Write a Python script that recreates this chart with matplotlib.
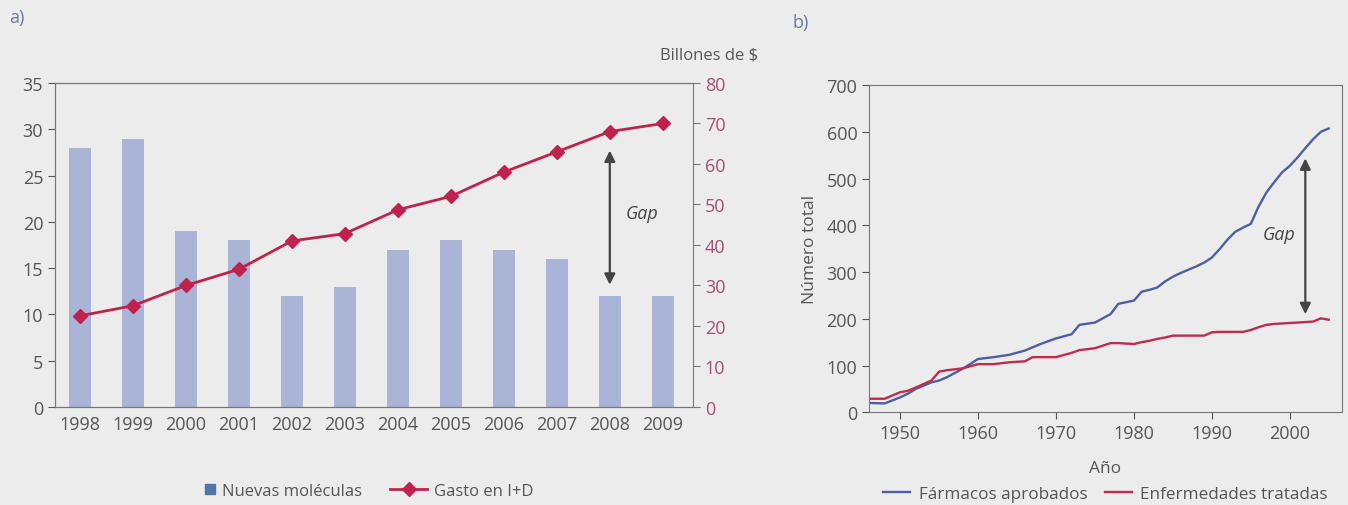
import numpy as np
import matplotlib.pyplot as plt
from matplotlib.lines import Line2D

plt.rcParams['font.family'] = ['Open Sans', 'DejaVu Sans']

# a) nuevas moléculas y gasto en I+D
anios = ['1998', '1999', '2000', '2001', '2002', '2003', '2004', '2005', '2006', '2007', '2008', '2009']
nuevas_moleculas = [28, 29, 19, 18, 12, 13, 17, 18, 17, 16, 12, 12]
gasto_id = [22.5, 25, 30, 34, 41, 42.8, 48.7, 52, 58, 63, 68, 70]

# b) fármacos aprobados y enfermedades tratadas
anio_b = [1946, 1948, 1950, 1951, 1952, 1954, 1955, 1956, 1958, 1960, 1962, 1964, 1966, 1967,
          1968, 1970, 1972, 1973, 1975, 1977, 1978, 1980, 1981, 1982, 1983, 1984, 1985, 1986,
          1988, 1989, 1990, 1991, 1992, 1993, 1994, 1995, 1996, 1997, 1998, 1999, 2000,
          2001, 2002, 2003, 2004, 2005]
farmacos = [20, 19, 32, 40, 50, 64, 68, 75, 93, 114, 118, 123, 132, 139,
            146, 158, 167, 187, 192, 210, 232, 239, 258, 262, 267, 280, 290, 298,
            312, 320, 331, 349, 369, 386, 395, 403, 440, 470, 492, 513, 527,
            545, 565, 584, 600, 607]
enfermedades = [29, 29, 43, 46, 53, 68, 87, 90, 94, 103, 103, 107, 109, 118,
                118, 118, 127, 133, 137, 148, 148, 146, 150, 153, 157, 160, 164, 164,
                164, 164, 171, 172, 172, 172, 172, 176, 182, 187, 189, 190, 191,
                192, 193, 194, 201, 198]

bg = '#ececec'
txt = '#555555'
spine = '#777777'
bar_c = '#aab4d6'
line_c = '#c0224f'
azul = '#4d5fa0'
rojo = '#c02a4e'

fig = plt.figure(figsize=(13.48, 5.06), dpi=100, facecolor=bg)

# ---- panel a ----
ax = fig.add_axes([0.0408, 0.1937, 0.4733, 0.6403], facecolor=bg)
x = np.arange(len(anios))
ax.bar(x, nuevas_moleculas, width=0.42, color=bar_c, zorder=2)
ax.set_xlim(-0.47, 11.57)
ax.set_ylim(0, 35)
ax.set_yticks(range(0, 36, 5))
ax.set_xticks(x)
ax.set_xticklabels(anios)
ax.tick_params(colors=txt, labelsize=13, direction='out', length=5)
ax.tick_params(axis='x', length=0, pad=6)
for s in ax.spines.values():
    s.set_color(spine)
ax.spines['right'].set_visible(False)

ax2 = ax.twinx()
ax2.plot(x, gasto_id, color=line_c, lw=2, marker='D', ms=7, zorder=3)
ax2.set_ylim(0, 80)
ax2.set_yticks(range(0, 81, 10))
ax2.tick_params(colors=spine, labelcolor='#a45072', labelsize=13, direction='out', length=5)
for s in ax2.spines.values():
    s.set_color(spine)
fig.text(0.5625, 0.891, 'Billones de $', ha='right', va='center', fontsize=12, color=txt)

ax2.annotate('', xy=(10, 29.5), xytext=(10, 64),
             arrowprops=dict(arrowstyle='<|-|>', color='#444444', lw=1.6, mutation_scale=16))
ax2.text(10.3, 48, 'Gap', style='italic', fontsize=13, color='#444444', ha='left', va='center')

h_bar = Line2D([], [], ls='none', marker='s', ms=7, color='#4a76a8')
h_line = Line2D([], [], color=line_c, lw=2, marker='D', ms=7)
fig.legend([h_bar], ['Nuevas moléculas'], loc='center left',
           bbox_to_anchor=(0.146, 0.028), frameon=False, fontsize=12,
           labelcolor=txt, handlelength=0.6, handletextpad=0.4, borderpad=0)
fig.legend([h_line], ['Gasto en I+D'], loc='center left',
           bbox_to_anchor=(0.2834, 0.028), frameon=False, fontsize=12,
           labelcolor=txt, handlelength=2.2, handletextpad=0.4, borderpad=0)

fig.text(0.007, 0.965, 'a)', fontsize=13, color='#6a7a9a', ha='left', va='center')
fig.text(0.588, 0.955, 'b)', fontsize=13, color='#6a7a9a', ha='left', va='center')

# ---- panel b ----
bx = fig.add_axes([0.6447, 0.1832, 0.3508, 0.6468], facecolor=bg)
bx.plot(anio_b, farmacos, color=azul, lw=1.7, label='Fármacos aprobados')
bx.plot(anio_b, enfermedades, color=rojo, lw=1.7, label='Enfermedades tratadas')
bx.set_xlim(1946, 2006.7)
bx.set_ylim(0, 700)
bx.set_xticks([1950, 1960, 1970, 1980, 1990, 2000])
bx.set_yticks(range(0, 701, 100))
bx.tick_params(colors=txt, labelsize=13, direction='out', length=5)
for s in bx.spines.values():
    s.set_color(spine)
bx.set_ylabel('Número total', fontsize=12.5, color=txt, labelpad=6)
bx.set_xlabel('Año', fontsize=12.5, color=txt, labelpad=13)
bx.annotate('', xy=(2002, 204), xytext=(2002, 549),
            arrowprops=dict(arrowstyle='<|-|>', color='#444444', lw=1.6, mutation_scale=16))
bx.text(1998.6, 381, 'Gap', style='italic', fontsize=13, color='#444444', ha='center', va='center')
bx.legend(loc='center', bbox_to_anchor=(0.5, -0.25), ncol=2, frameon=False,
          fontsize=12.3, labelcolor=txt, handlelength=1.6, columnspacing=1.0, handletextpad=0.5)

fig.savefig('out.png', dpi=100, facecolor=bg)
